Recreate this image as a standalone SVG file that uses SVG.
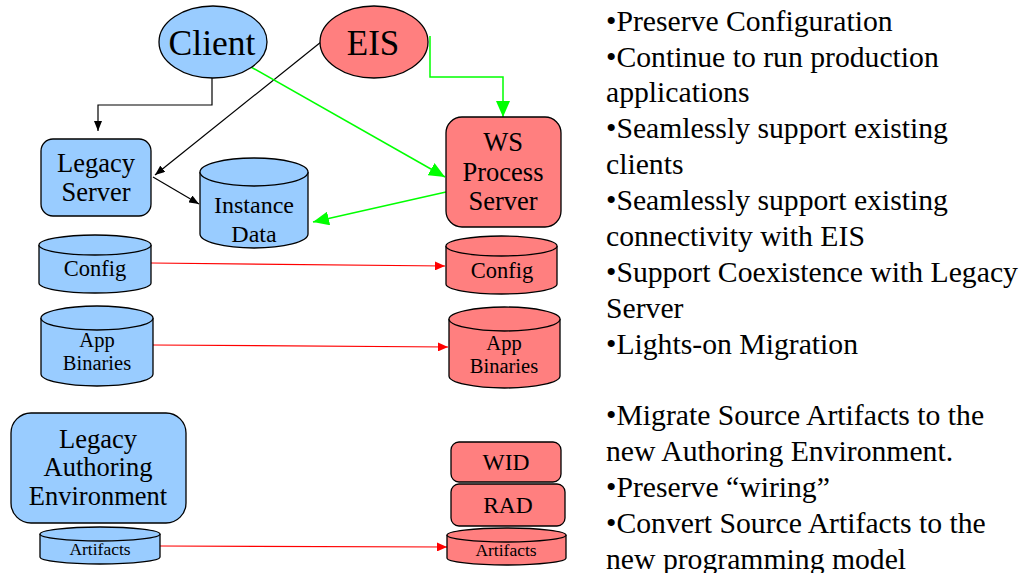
<svg xmlns="http://www.w3.org/2000/svg" width="1023" height="573" viewBox="0 0 1023 573">
  <style>
    .blue { fill: #99CCFF; stroke: #000; stroke-width: 1.3; }
    .red { fill: #FF7F7F; stroke: #000; stroke-width: 1.3; }
    .lbl { font-family: "Liberation Serif", "Times New Roman", serif; fill: #000; text-anchor: middle; }
    .bul { font-family: "Liberation Serif", "Times New Roman", serif; fill: #000; font-size: 29.7px; }
    .blk { stroke: #000; stroke-width: 1.2; fill: none; marker-end: url(#ahBlack); }
    .grn { stroke: #00FF00; stroke-width: 1.5; fill: none; marker-end: url(#ahGreen); }
    .rd { stroke: #FF0000; stroke-width: 1.2; fill: none; marker-end: url(#ahRed); }
  </style>
  <defs>
    <marker id="ahBlack" markerUnits="userSpaceOnUse" markerWidth="10" markerHeight="8" refX="10" refY="4" orient="auto">
      <path d="M0,0 L10,4 L0,8 z" fill="#000"/>
    </marker>
    <marker id="ahGreen" markerUnits="userSpaceOnUse" markerWidth="16" markerHeight="14" refX="16" refY="7" orient="auto">
      <path d="M0,0 L16,7 L0,14 z" fill="#00FF00"/>
    </marker>
    <marker id="ahRed" markerUnits="userSpaceOnUse" markerWidth="10" markerHeight="9" refX="10" refY="4.5" orient="auto">
      <path d="M0,0 L10,4.5 L0,9 z" fill="#FF0000"/>
    </marker>
  </defs>

  <rect width="1023" height="573" fill="#fff"/>

  <!-- connectors -->
  <g id="connectors">
    <polyline class="blk" points="212,78 212,105 98,105 98,131"/>
    <line class="blk" x1="321" y1="42" x2="155" y2="175"/>
    <line class="blk" x1="153" y1="177" x2="199" y2="204"/>
    <polyline class="grn" points="430,36 430,77 503,77 503,117"/>
    <line class="grn" x1="251" y1="67" x2="445" y2="177"/>
    <line class="grn" x1="446" y1="192" x2="313" y2="222"/>
    <line class="rd" x1="151" y1="263" x2="445" y2="266"/>
    <line class="rd" x1="153" y1="345" x2="448" y2="347"/>
    <line class="rd" x1="160" y1="546" x2="447" y2="547"/>
  </g>

  <!-- left side: existing environment -->
  <g id="client">
    <ellipse class="blue" cx="213" cy="42" rx="54" ry="36"/>
    <text class="lbl" x="212" y="55" font-size="35.5">Client</text>
  </g>
  <g id="eis">
    <ellipse class="red" cx="374" cy="42" rx="54" ry="36"/>
    <text class="lbl" x="373" y="55" font-size="35">EIS</text>
  </g>
  <g id="legacy-server">
    <rect class="blue" x="41" y="139" width="110" height="77" rx="12"/>
    <text class="lbl" x="96" y="172" font-size="26.5">Legacy</text>
    <text class="lbl" x="96" y="201" font-size="26.5">Server</text>
  </g>
  <g id="instance-data">
    <path class="blue" d="M200,172 A54,14 0 0 1 308,172 V234 A54,14 0 0 1 200,234 Z"/>
    <path class="blue" fill="none" d="M200,172 A54,14 0 0 0 308,172"/>
    <text class="lbl" x="254" y="213" font-size="24">Instance</text>
    <text class="lbl" x="254" y="242" font-size="24">Data</text>
  </g>
  <g id="config-legacy">
    <path class="blue" d="M39,245 A56,10 0 0 1 151,245 V283 A56,10 0 0 1 39,283 Z"/>
    <path class="blue" d="M39,245 A56,10 0 0 0 151,245"/>
    <text class="lbl" x="95" y="276" font-size="22.5">Config</text>
  </g>
  <g id="app-binaries-legacy">
    <path class="blue" d="M41,318 A56,12 0 0 1 153,318 V374 A56,12 0 0 1 41,374 Z"/>
    <path class="blue" d="M41,318 A56,12 0 0 0 153,318"/>
    <text class="lbl" x="97" y="347" font-size="20.5">App</text>
    <text class="lbl" x="97" y="370" font-size="20.5">Binaries</text>
  </g>
  <g id="legacy-authoring">
    <rect class="blue" x="11" y="413" width="175" height="110" rx="20"/>
    <text class="lbl" x="98" y="448" font-size="26.5">Legacy</text>
    <text class="lbl" x="98" y="476" font-size="26.5">Authoring</text>
    <text class="lbl" x="98" y="505" font-size="26.5">Environment</text>
  </g>
  <g id="artifacts-legacy">
    <path class="blue" d="M40,534 A60,7 0 0 1 160,534 V557 A60,7 0 0 1 40,557 Z"/>
    <path class="blue" d="M40,534 A60,7 0 0 0 160,534"/>
    <text class="lbl" x="100" y="555" font-size="17.5">Artifacts</text>
  </g>

  <!-- right side: new environment -->
  <g id="ws-process-server">
    <rect class="red" x="446" y="117" width="115" height="110" rx="16"/>
    <text class="lbl" x="503" y="151" font-size="26.5">WS</text>
    <text class="lbl" x="503" y="181" font-size="26.5">Process</text>
    <text class="lbl" x="503" y="210" font-size="26.5">Server</text>
  </g>
  <g id="config-new">
    <path class="red" d="M446,246 A55.5,10 0 0 1 557,246 V284 A55.5,10 0 0 1 446,284 Z"/>
    <path class="red" d="M446,246 A55.5,10 0 0 0 557,246"/>
    <text class="lbl" x="502" y="278" font-size="22.5">Config</text>
  </g>
  <g id="app-binaries-new">
    <path class="red" d="M449,319 A55.5,12 0 0 1 560,319 V376 A55.5,12 0 0 1 449,376 Z"/>
    <path class="red" d="M449,319 A55.5,12 0 0 0 560,319"/>
    <text class="lbl" x="504" y="350" font-size="20.5">App</text>
    <text class="lbl" x="504" y="373" font-size="20.5">Binaries</text>
  </g>
  <g id="wid">
    <rect class="red" x="451" y="442" width="110" height="40" rx="8"/>
    <text class="lbl" x="506" y="470" font-size="23.5">WID</text>
  </g>
  <g id="rad">
    <rect class="red" x="451" y="484" width="114" height="42" rx="8"/>
    <text class="lbl" x="508" y="513" font-size="23.5">RAD</text>
  </g>
  <g id="artifacts-new">
    <path class="red" d="M447,535 A59.5,7 0 0 1 566,535 V558 A59.5,7 0 0 1 447,558 Z"/>
    <path class="red" d="M447,535 A59.5,7 0 0 0 566,535"/>
    <text class="lbl" x="506" y="556" font-size="17.5">Artifacts</text>
  </g>

  <!-- goals list -->
  <g id="notes">
    <text class="bul" x="606" y="31">•Preserve Configuration</text>
    <text class="bul" x="606" y="67">•Continue to run production</text>
    <text class="bul" x="606" y="102">applications</text>
    <text class="bul" x="606" y="138">•Seamlessly support existing</text>
    <text class="bul" x="606" y="174">clients</text>
    <text class="bul" x="606" y="210">•Seamlessly support existing</text>
    <text class="bul" x="606" y="246">connectivity with EIS</text>
    <text class="bul" x="606" y="282">•Support Coexistence with Legacy</text>
    <text class="bul" x="606" y="318">Server</text>
    <text class="bul" x="606" y="354">•Lights-on Migration</text>
    <text class="bul" x="606" y="425">•Migrate Source Artifacts to the</text>
    <text class="bul" x="606" y="461">new Authoring Environment.</text>
    <text class="bul" x="606" y="497">•Preserve “wiring”</text>
    <text class="bul" x="606" y="533">•Convert Source Artifacts to the</text>
    <text class="bul" x="606" y="569">new programming model</text>
  </g>
</svg>
